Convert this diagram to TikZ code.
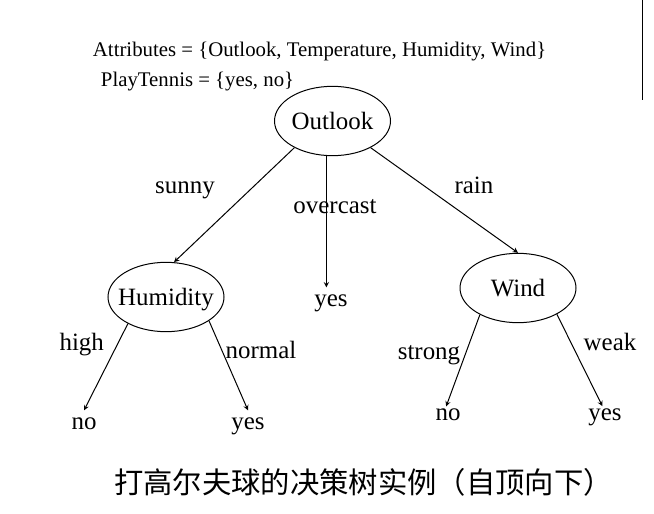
\documentclass[tikz,border=0pt]{standalone}
\usepackage{fontspec}
\setmainfont{Liberation Serif}
\newfontfamily\cjkfont{Noto Sans CJK SC}
\usetikzlibrary{shapes,arrows,positioning}

\newcommand{\nodetext}[1]{\makebox[0pt]{#1}}

\begin{document}
\begin{tikzpicture}[
    x=0.75pt, y=-0.75pt,
    treenode/.style={ellipse, draw=black, line width=0.75pt, minimum width=87pt, minimum height=52pt, inner sep=0pt, text depth=0pt, font=\fontsize{18.7}{22}\selectfont},
    leaf/.style={anchor=base, inner sep=0pt, text height=13.8pt, text depth=3.5pt, font=\fontsize{18.7}{22}\selectfont},
    edgelabel/.style={anchor=base, inner sep=0pt, font=\fontsize{18.7}{22}\selectfont},
    header/.style={anchor=base west, inner sep=0pt, font=\fontsize{15.6}{18}\selectfont},
    arrow/.style={->, >=stealth, line width=0.75pt}
]
\useasboundingbox (0,0) rectangle (654,514);

% Header
\node[header] (attributes) at (92.7,56) {Attributes = \{Outlook, Temperature, Humidity, Wind\}};
\node[header] (playtennis) at (100.7,86.7) {PlayTennis = \{yes, no\}};
\draw[line width=1pt] (642.5,0) -- (642.5,100);

% Decision nodes
\node[treenode] (outlook) at (332.5,121) {\nodetext{Outlook}};
\node[treenode] (humidity) at (166,297) {\nodetext{Humidity}};
\node[treenode] (wind) at (518,288) {\nodetext{Wind}};

% Leaves
\node[leaf] (yes0) at (331,306) {yes};
\node[leaf] (no1) at (84,429) {no};
\node[leaf] (yes1) at (248,429) {yes};
\node[leaf] (no2) at (448,420) {no};
\node[leaf] (yes2) at (605,420) {yes};

% Branch values
\node[edgelabel] (sunny) at (185,193.3) {sunny};
\node[edgelabel] (overcast) at (335,213.3) {overcast};
\node[edgelabel] (rain) at (474,193.3) {rain};
\node[edgelabel] (high) at (81.7,350) {high};
\node[edgelabel] (normal) at (261,358.3) {normal};
\node[edgelabel] (strong) at (429,359.3) {strong};
\node[edgelabel] (weak) at (610,350) {weak};

% Branches
\draw[arrow] (outlook.-145.6) -- (humidity.77);
\draw[arrow] (outlook.-100.8) -- (outlook.-100.8 |- yes0.north);
\draw[arrow] (outlook.-35.3) -- (wind.north);
\draw[arrow] (humidity.-145.5) -- (no1.north);
\draw[arrow] (humidity.-29.9) -- (yes1.north);
\draw[arrow, shorten >=-4pt] (wind.-145.8) -- (no2.north);
\draw[arrow, shorten >=-4pt] (wind.-34.9) -- (yes2.113);

% Caption
\node[anchor=west, inner sep=0pt, font=\cjkfont\fontsize{22}{26}\selectfont] (caption) at (114,482) {打高尔夫球的决策树实例（自顶向下）};

\end{tikzpicture}
\end{document}
